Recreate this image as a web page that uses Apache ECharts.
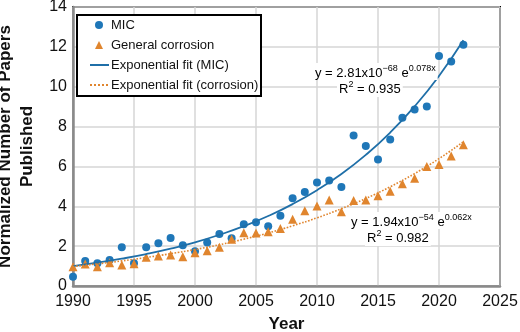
<!DOCTYPE html>
<html>
<head>
<meta charset="utf-8">
<script src="https://cdn.jsdelivr.net/npm/echarts@6/dist/echarts.min.js"></script>
<style>
  html, body { margin: 0; padding: 0; background: #fff; }
  #chart { width: 520px; height: 332px; }
</style>
</head>
<body>
<div id="chart"></div>
<script>
var years = [1990, 1991, 1992, 1993, 1994, 1995, 1996, 1997, 1998, 1999, 2000, 2001, 2002, 2003, 2004, 2005,
    2006, 2007, 2008, 2009, 2010, 2011, 2012, 2013, 2014, 2015, 2016, 2017, 2018, 2019, 2020, 2021, 2022];
var micValues = [0.47, 1.26, 1.14, 1.31, 1.94, 1.14, 1.94, 2.14, 2.41, 2.05, 1.74, 2.18, 2.61, 2.40, 3.10, 3.20,
    3.00, 3.52, 4.40, 4.72, 5.19, 5.29, 4.97, 7.55, 7.03, 6.35, 7.35, 8.44, 8.86, 9.01, 11.54, 11.27, 12.11];
var corrValues = [0.97, 1.10, 0.97, 1.17, 1.05, 1.12, 1.44, 1.51, 1.56, 1.47, 1.67, 1.77, 1.94, 2.35, 2.67, 2.66,
    2.72, 2.88, 3.35, 3.77, 4.02, 4.32, 3.73, 4.29, 4.32, 4.53, 4.76, 5.13, 5.41, 6.00, 6.10, 6.52, 7.09];

// fit curves
var fitYears = [1990, 1992, 1994, 1996, 1998, 2000, 2002, 2004, 2006, 2008, 2010, 2012, 2014, 2016, 2018, 2020, 2022];
var micFit = [1.00, 1.17, 1.37, 1.60, 1.87, 2.19, 2.57, 3.00, 3.51, 4.11, 4.81, 5.62, 6.58, 7.70, 9.01, 10.54, 12.33];
var corrFit = [0.98, 1.11, 1.26, 1.43, 1.62, 1.83, 2.07, 2.35, 2.66, 3.02, 3.42, 3.88, 4.39, 4.98, 5.64, 6.39, 7.24];

var seriesNames = ['MIC', 'General corrosion', 'Exponential fit (MIC)', 'Exponential fit (corrosion)'];

var BLUE = '#1f77b8';
var BLUE_LINE = '#1f6fa8';
var ORANGE = '#e0852e';
var FONT = '"Liberation Sans", Arial, Helvetica, sans-serif';

function pairs(xs, ys) {
    return xs.map(function (x, i) { return [x, ys[i]]; });
}

var chart = echarts.init(document.getElementById('chart'), null, { renderer: 'canvas' });

var richBlue = {
    n: { fontSize: 13, fontFamily: FONT, color: BLUE, lineHeight: 16, verticalAlign: 'bottom' },
    s: { fontSize: 9, fontFamily: FONT, color: BLUE, lineHeight: 16, verticalAlign: 'top' }
};
var richOrange = {
    n: { fontSize: 13, fontFamily: FONT, color: ORANGE, lineHeight: 16, verticalAlign: 'bottom' },
    s: { fontSize: 9, fontFamily: FONT, color: ORANGE, lineHeight: 16, verticalAlign: 'top' }
};

var legendText = { fontSize: 13, color: '#111', fontFamily: FONT, lineHeight: 14 };

var option = {
    animation: false,
    backgroundColor: '#fff',
    textStyle: { fontFamily: FONT },
    grid: {
        left: 73,
        right: 20,
        top: 7,
        bottom: 46,
        outerBoundsMode: 'none',
        containLabel: false,
        show: true,
        borderColor: '#000',
        borderWidth: 2
    },
    legend: [{
        left: 95,
        top: 18,
        z: 8,
        orient: 'vertical',
        data: [seriesNames[0], seriesNames[1]],
        padding: 0,
        itemWidth: 8,
        itemHeight: 8,
        itemGap: 6,
        textStyle: Object.assign({ padding: [0, 0, 0, 3] }, legendText)
    }, {
        left: 89,
        top: 58,
        z: 8,
        orient: 'vertical',
        data: [
            { name: seriesNames[2], itemStyle: { opacity: 0 } },
            { name: seriesNames[3], itemStyle: { opacity: 0 } }
        ],
        padding: 0,
        itemWidth: 19,
        itemHeight: 8,
        itemGap: 6,
        textStyle: Object.assign({ padding: [0, 0, 0, -3] }, legendText)
    }],
    xAxis: {
        type: 'value',
        min: 1990,
        max: 2025,
        interval: 5,
        name: 'Year',
        nameLocation: 'middle',
        nameGap: 30,
        nameTextStyle: { fontSize: 17, fontWeight: 'bold', color: '#111', fontFamily: FONT },
        axisLine: { show: true, lineStyle: { color: '#8a8a8a', width: 2.5 } },
        axisTick: { show: false },
        axisLabel: {
            fontSize: 16, color: '#111', margin: 8, fontFamily: FONT,
            formatter: function (v) { return String(v); }
        },
        splitLine: { show: true, lineStyle: { color: '#d6d6d6', width: 1.5 } }
    },
    yAxis: {
        type: 'value',
        min: 0,
        max: 14,
        interval: 2,
        name: 'Normalized Number of Papers\nPublished',
        nameLocation: 'middle',
        nameGap: 26,
        nameTextStyle: { fontSize: 17, fontWeight: 'bold', color: '#111', lineHeight: 22, fontFamily: FONT },
        axisLine: { show: true, lineStyle: { color: '#8a8a8a', width: 2.5 } },
        axisTick: { show: false },
        axisLabel: { fontSize: 16, color: '#111', margin: 6, fontFamily: FONT },
        splitLine: { show: true, lineStyle: { color: '#d6d6d6', width: 1.5 } }
    },
    series: [{
        name: seriesNames[0],
        type: 'scatter',
        symbol: 'circle',
        symbolSize: 8,
        itemStyle: { color: BLUE, opacity: 1 },
        data: pairs(years, micValues),
        z: 3
    }, {
        name: seriesNames[1],
        type: 'scatter',
        symbol: 'triangle',
        symbolSize: 9,
        itemStyle: { color: ORANGE, opacity: 1 },
        data: pairs(years, corrValues),
        z: 3
    }, {
        name: seriesNames[2],
        type: 'line',
        smooth: true,
        symbol: 'none',
        lineStyle: { color: BLUE_LINE, width: 1.8 },
        itemStyle: { color: BLUE_LINE },
        data: pairs(fitYears, micFit),
        z: 4
    }, {
        name: seriesNames[3],
        type: 'line',
        smooth: true,
        symbol: 'none',
        lineStyle: { color: ORANGE, width: 1.6, type: 'dotted' },
        itemStyle: { color: ORANGE },
        data: pairs(fitYears, corrFit),
        z: 4
    }],
    graphic: [{
        type: 'rect',
        z: 6,
        shape: { x: 77, y: 15, width: 184, height: 81 },
        style: { fill: '#fff', stroke: '#000', lineWidth: 2 }
    }, {
        type: 'text',
        left: 313,
        top: 63,
        z: 10,
        style: {
            text: '{n|y = 2.81x10}{s|−68}{n| e}{s|0.078x}',
            rich: richBlue,
            backgroundColor: '#fff',
            padding: [1, 2, 0, 2]
        }
    }, {
        type: 'text',
        left: 337,
        top: 80,
        z: 10,
        style: {
            text: '{n|R}{s|2}{n| = 0.935}',
            rich: richBlue,
            backgroundColor: '#fff',
            padding: [0, 2, 1, 2]
        }
    }, {
        type: 'text',
        left: 349,
        top: 212,
        z: 10,
        style: {
            text: '{n|y = 1.94x10}{s|−54}{n| e}{s|0.062x}',
            rich: richOrange,
            backgroundColor: '#fff',
            padding: [1, 2, 0, 2]
        }
    }, {
        type: 'text',
        left: 365,
        top: 229,
        z: 10,
        style: {
            text: '{n|R}{s|2}{n| = 0.982}',
            rich: richOrange,
            backgroundColor: '#fff',
            padding: [0, 2, 1, 2]
        }
    }]
};

chart.setOption(option);
</script>
</body>
</html>
